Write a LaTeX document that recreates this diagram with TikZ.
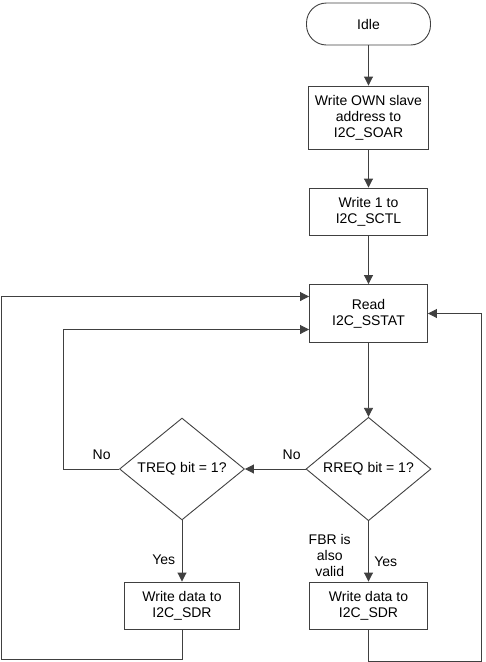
\documentclass[tikz,border=0pt]{standalone}
\usepackage{fontspec}
\setmainfont{Liberation Sans}
\usetikzlibrary{shapes.geometric,arrows.meta,positioning}
\definecolor{linegray}{HTML}{404040}

\begin{document}
\begin{tikzpicture}[x=1pt, y=1pt, >={Triangle[length=9pt,width=9pt]},
    every node/.style={font=\fontsize{14}{16}\selectfont},
    line/.style={draw=linegray, line width=0.9pt},
    box/.style={rectangle, line, align=center, inner sep=0pt,
        minimum width=118pt, minimum height=47pt},
    idle/.style={box, rounded corners=20pt, minimum width=124pt, minimum height=42pt},
    decision/.style={diamond, line, inner sep=0pt,
        minimum width=125pt, minimum height=92pt}]

    \useasboundingbox (0,0) rectangle (486,-662);

    \node[idle] (idle) at (368.5,-24) {Idle};
    \node[box, node distance=93.5pt, below of=idle, minimum width=120pt,
        minimum height=63pt] (soar) {Write OWN slave\\address to\\I2C\_SOAR};
    \node[box, node distance=94pt, below of=soar] (sctl) {Write 1 to\\I2C\_SCTL};
    \node[box, node distance=102pt, below of=sctl, minimum height=58pt] (read) {Read\\I2C\_SSTAT};
    \node[decision, node distance=155.5pt, below of=read] (rreq) {RREQ bit = 1?};
    \node[decision, node distance=186.5pt, left of=rreq] (treq) {TREQ bit = 1?};
    \node[box, node distance=136.5pt, below of=rreq] (rsdr) {Write data to\\I2C\_SDR};
    \node[box, node distance=136.5pt, below of=treq, minimum width=115pt] (tsdr) {Write data to\\I2C\_SDR};

    % loop corners
    \coordinate (tleft) at (63,-469);
    \coordinate (lbot) at (1,-659);
    \coordinate (rbot) at (481,-661);

    \draw[line,->] (idle) -- (soar);
    \draw[line,->] (soar) -- (sctl);
    \draw[line,->] (sctl) -- (read);
    \draw[line,->] (read) -- (rreq);
    \draw[line,->] (rreq.west) -- node[pos=0.23, above=6pt] {No} (treq.east);
    \draw[line,->] (treq.west) -- node[pos=0.31, above=6pt] {No} (tleft)
        |- ([yshift=-16pt]read.west);
    \draw[line,->] (treq.south) -- node[pos=0.64, left=3pt] {Yes} (tsdr.north);
    \draw[line,->] (rreq.south) -- node[pos=0.67, right=2pt] {Yes}
        node[pos=0.57, left=14pt, align=center] {FBR is\\also\\valid} (rsdr.north);
    \draw[line,->] (tsdr.south) |- (lbot) |- ([yshift=17pt]read.west);
    \draw[line,->] (rsdr.south) |- (rbot) |- (read.east);
\end{tikzpicture}
\end{document}
